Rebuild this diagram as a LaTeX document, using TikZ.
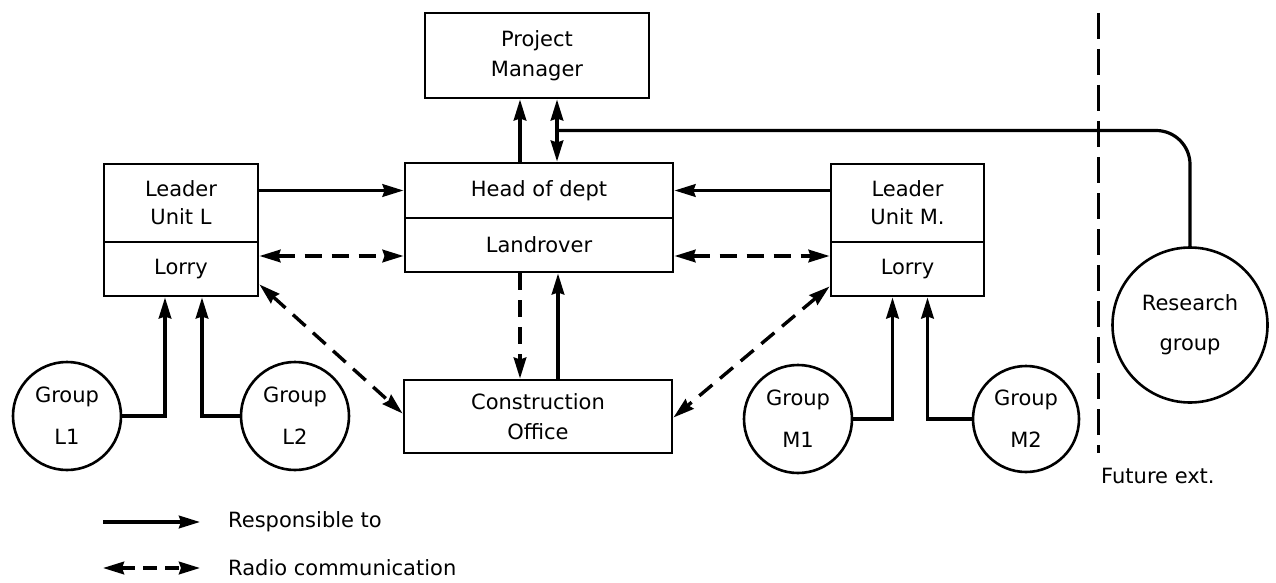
\documentclass[tikz,border=0pt]{standalone}
\usepackage{fontspec}
\setmainfont{DejaVu Sans}
\usetikzlibrary{arrows.meta,calc}
\begin{document}
\begin{tikzpicture}[x=1pt,y=-1pt,
  >={Stealth[length=21pt,width=12.5pt,inset=2pt]},
  every node/.style={font=\fontsize{21}{28}\selectfont},
  box/.style={draw, line width=2.9pt, rectangle, inner sep=0pt, align=center},
  grp/.style={draw, circle, line width=2.6pt, inner sep=0pt, align=center},
  resp/.style={line width=3.4pt, ->},
  radio/.style={line width=3.4pt, dash pattern=on 17pt off 10pt},
  plain/.style={draw=none, inner sep=0pt}]
\useasboundingbox (0,0) rectangle (1276,583);

% boxes
\node[box, minimum width=224pt, minimum height=85pt] (pm) at (537,55.5) {Project\\[2pt]Manager};
\node[box, minimum width=268pt, minimum height=55pt] (hod) at (539,190.5) {Head of dept};
\node[box, minimum width=268pt, minimum height=54pt] (land) at (539,245) {Landrover};
\node[box, minimum width=154pt, minimum height=78pt] (leadL) at (181,203) {Leader\\Unit L};
\node[box, minimum width=154pt, minimum height=54pt] (lorryL) at (181,269) {Lorry};
\node[box, minimum width=153pt, minimum height=78pt] (leadM) at (907.5,203) {Leader\\Unit M.};
\node[box, minimum width=153pt, minimum height=54pt] (lorryM) at (907.5,269) {Lorry};
\node[box, minimum width=268pt, minimum height=73pt] (co) at (538,416.5) {Construction\\[2pt]Office};

% groups
\node[grp, minimum size=108pt] (L1) at (67,416) {Group\\[14pt]L1};
\node[grp, minimum size=108pt] (L2) at (295,416) {Group\\[14pt]L2};
\node[grp, minimum size=108pt] (M1) at (798,419) {Group\\[14pt]M1};
\node[grp, minimum size=106pt] (M2) at (1026,419) {Group\\[14pt]M2};
\node[grp, minimum size=155pt] (rg) at (1190,325) {Research\\[12pt]group};

% responsibility lines
\draw[resp] (leadL.east |- hod.west) -- (hod.west);
\draw[resp] (leadM.west |- hod.east) -- (hod.east);
\draw[resp] ([xshift=-19pt]hod.north) -- ([xshift=-19pt]hod.north |- pm.south);
\draw[resp, <->] ([xshift=18pt]hod.north) -- ([xshift=18pt]hod.north |- pm.south);
\draw[resp] ([xshift=20pt]co.north) -- ([xshift=20pt]co.north |- land.south);
\draw[resp] (L1.east) -| ([xshift=-16pt]lorryL.south);
\draw[resp] (L2.west) -| ([xshift=21pt]lorryL.south);
\draw[resp] (M1.east) -| ([xshift=-15pt]lorryM.south);
\draw[resp] (M2.west) -| ([xshift=20pt]lorryM.south);

% link to the research group
\coordinate (br) at ($(pm.south)!0.5!(hod.north) + (18,0)$);
\draw[line width=3.2pt, rounded corners=34pt] (br) -| (rg.north);

% radio links
\draw[radio, <->] ([yshift=13pt]lorryL.east) -- ([yshift=13pt]lorryL.east -| land.west);
\draw[radio, <->] ([yshift=13pt]lorryM.west -| land.east) -- ([yshift=13pt]lorryM.west);
\draw[radio, ->] ([xshift=-19pt]land.south) -- ([xshift=-19pt]land.south |- co.north);
\draw[radio, <->] ([yshift=13pt]lorryL.south east) -- ([yshift=3pt]co.west);
\draw[radio, <->] ([yshift=11pt]lorryM.south west) -- ([yshift=-1pt]co.east);

% future extension boundary
\coordinate (divtop) at (1098,13);
\coordinate (divbot) at (1098,453);
\draw[line width=3pt, dash pattern=on 26pt off 10pt] (divtop) -- (divbot);
\node[plain, anchor=west] (fut) at (1101,476) {Future ext.};

% legend
\coordinate (k1a) at (103,522);
\coordinate (k1b) at (200,522);
\coordinate (k2a) at (103,568);
\coordinate (k2b) at (200,568);
\draw[resp] (k1a) -- (k1b);
\draw[line width=3.4pt, dash pattern=on 14pt off 8pt, <->] (k2a) -- (k2b);
\node[plain, anchor=west] (t1) at (228,522) {Responsible to};
\node[plain, anchor=west] (t2) at (228,568) {Radio communication};
\end{tikzpicture}
\end{document}
